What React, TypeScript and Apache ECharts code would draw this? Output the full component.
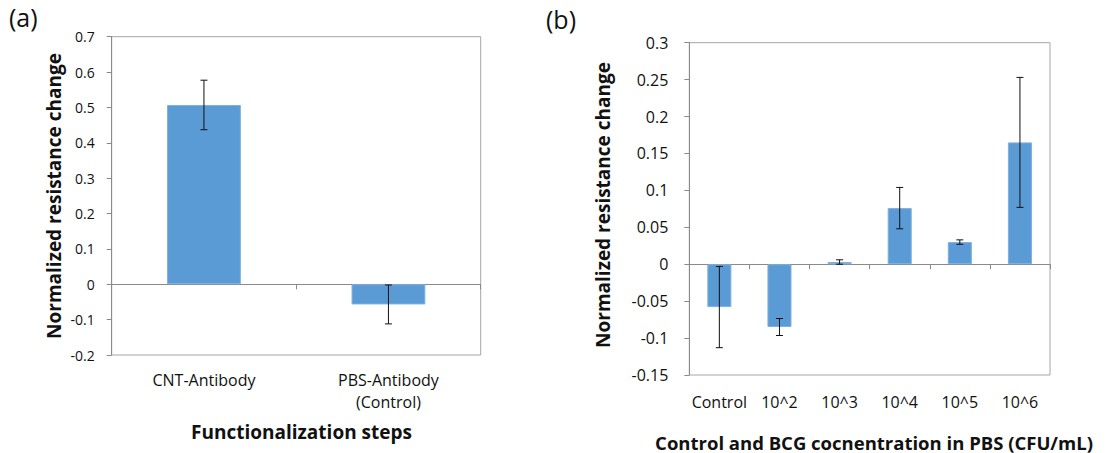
import React, { useEffect, useRef } from "react";
import * as echarts from "echarts";

const catsA = ["CNT-Antibody", "PBS-Antibody\n(Control)"];
const valsA = [0.507, -0.057];
const errA = [0.07, 0.055];

const catsB = ["Control", "10^2", "10^3", "10^4", "10^5", "10^6"];
const valsB = [-0.058, -0.085, 0.003, 0.076, 0.03, 0.165];
const errB = [0.055, 0.0115, 0.003, 0.028, 0.003, 0.088];

const ticksA = { min: -0.2, max: 0.7, interval: 0.1 };
const ticksB = { min: -0.15, max: 0.3, interval: 0.05 };

const FONT = "'Open Sans'";
const BAR = "#5b9bd5";

function errData(vals: number[], errs: number[]) {
  return vals.map((v, i) => [i, v - errs[i], v + errs[i]]);
}

function renderErr(params: any, api: any) {
  const i = api.value(0);
  const lo = api.coord([i, api.value(1)]);
  const hi = api.coord([i, api.value(2)]);
  const x = lo[0];
  const cap = 3.5;
  const style = { stroke: "#111", lineWidth: 1 };
  return {
    type: "group",
    children: [
      { type: "line", shape: { x1: x, y1: hi[1], x2: x, y2: lo[1] }, style },
      { type: "line", shape: { x1: x - cap, y1: hi[1], x2: x + cap, y2: hi[1] }, style },
      { type: "line", shape: { x1: x - cap, y1: lo[1], x2: x + cap, y2: lo[1] }, style },
    ],
  };
}

export default function App() {
  const ref = useRef<HTMLDivElement>(null);
  useEffect(() => {
    document.body.style.margin = "0";
    const chart = echarts.init(ref.current!, null, { renderer: "svg" });
    const yAxisCommon = (gi: number, t: any, fs: number, margin: number) => ({
      type: "value",
      gridIndex: gi,
      min: t.min,
      max: t.max,
      interval: t.interval,
      splitLine: { show: false },
      axisLine: { show: true, lineStyle: { color: "#8a8a8a", width: 1 } },
      axisTick: { show: true, length: 5, lineStyle: { color: "#8a8a8a" } },
      axisLabel: { fontFamily: FONT, fontSize: fs, color: "#111", margin },
    });
    const labelAxis = (gi: number, cats: string[], margin: number) => ({
      type: "category",
      gridIndex: gi,
      data: cats,
      position: "bottom",
      axisLine: { show: false, onZero: false },
      axisTick: { show: false },
      axisLabel: {
        fontFamily: FONT,
        fontSize: 16,
        color: "#111",
        margin,
        lineHeight: 22,
        interval: 0,
      },
    });
    const zeroAxis = (gi: number, cats: string[]) => ({
      type: "category",
      gridIndex: gi,
      data: cats,
      position: "bottom",
      axisLine: { show: true, onZero: true, lineStyle: { color: "#8a8a8a", width: 1 } },
      axisTick: { show: true, length: 5, lineStyle: { color: "#8a8a8a" } },
      axisLabel: { show: false },
    });
    const title = (text: string, x: number, y: number, rot: number, fs = 19) => ({
      type: "text",
      x,
      y,
      rotation: rot,
      style: { text, font: `bold ${fs}px ${FONT}`, fill: "#111", align: "center", verticalAlign: "middle" },
    });
    chart.setOption({
      animation: false,
      backgroundColor: "#fff",
      grid: [
        { left: 111.7, top: 36.7, width: 369, height: 318.3, show: true, borderColor: "#a6a6a6", borderWidth: 1 },
        { left: 689.3, top: 42.7, width: 360.7, height: 332.3, show: true, borderColor: "#a6a6a6", borderWidth: 1 },
      ],
      xAxis: [
        labelAxis(0, catsA, 14),
        zeroAxis(0, catsA),
        labelAxis(1, catsB, 16),
        zeroAxis(1, catsB),
      ],
      yAxis: [yAxisCommon(0, ticksA, 14, 17), yAxisCommon(1, ticksB, 16, 21)],
      series: [
        {
          type: "bar",
          xAxisIndex: 0,
          yAxisIndex: 0,
          data: valsA,
          barWidth: "40%",
          itemStyle: { color: BAR, borderColor: "#7fb0de", borderWidth: 1 },
        },
        {
          type: "custom",
          xAxisIndex: 0,
          yAxisIndex: 0,
          data: errData(valsA, errA),
          renderItem: renderErr,
          z: 5,
        },
        {
          type: "bar",
          xAxisIndex: 2,
          yAxisIndex: 1,
          data: valsB,
          barWidth: "40%",
          itemStyle: { color: BAR, borderColor: "#7fb0de", borderWidth: 1 },
        },
        {
          type: "custom",
          xAxisIndex: 2,
          yAxisIndex: 1,
          data: errData(valsB, errB),
          renderItem: renderErr,
          z: 5,
        },
      ],
      graphic: [
        { type: "text", left: 9, top: 4, style: { text: "(a)", font: `25px ${FONT}`, fill: "#111" } },
        { type: "text", left: 546, top: 6, style: { text: "(b)", font: `25px ${FONT}`, fill: "#111" } },
        title("Normalized resistance change", 53.5, 196, Math.PI / 2),
        title("Normalized resistance change", 603, 205, Math.PI / 2),
        title("Functionalization steps", 301.5, 432, 0),
        title("Control and BCG cocnentration in PBS (CFU/mL)", 874, 442, 0, 18.5),
      ],
    });
    return () => chart.dispose();
  }, []);
  return <div ref={ref} style={{ width: 1107, height: 453 }} />;
}
